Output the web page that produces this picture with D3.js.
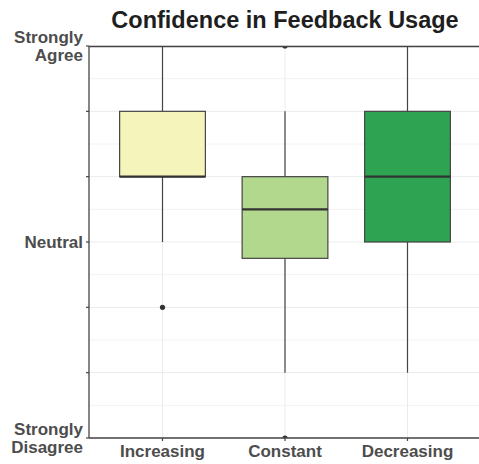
<!DOCTYPE html>
<html lang="en">
<head>
<meta charset="UTF-8">
<title>Confidence in Feedback Usage</title>
<style>
  body { margin: 0; background: #fff; }
  svg { display: block; }
  text { font-family: "Liberation Sans", Arial, sans-serif; }
</style>
<script src="https://d3js.org/d3.v7.min.js"></script>
</head>
<body>
<svg id="chart" width="479" height="464"></svg>
<script>
  const categories = ["Increasing", "Constant", "Decreasing"];
  const colors = ["#f5f5bb", "#b1d88c", "#2ea352"];
  // box stats on a 1..7 scale
  const q1 = [5, 3.75, 4];
  const medians = [5, 4.5, 5];
  const q3 = [6, 5, 6];
  const whiskLo = [4, 2, 2];
  const whiskHi = [7, 6, 7];
  const outliers = [[3], [7, 1], []];
  const yTickValues = [1, 4, 7];
  const yTickLabels = [["Strongly", "Disagree"], ["Neutral"], ["Strongly", "Agree"]];

  const svg = d3.select("#chart");
  const margin = { top: 46, right: -2, bottom: 26, left: 89 };
  const width = 479 - margin.left - margin.right;
  const height = 464 - margin.top - margin.bottom;

  const x = d3.scalePoint().domain(categories).range([0, width]).padding(0.6);
  const step = x.step();
  const y = d3.scaleLinear().domain([1, 7]).range([height, 0]);

  svg.append("defs").append("clipPath").attr("id", "clip")
    .append("rect").attr("width", width).attr("height", height);

  const g = svg.append("g").attr("transform", `translate(${margin.left},${margin.top})`);

  svg.append("text")
    .attr("x", margin.left + width / 2).attr("y", 28)
    .attr("text-anchor", "middle")
    .attr("font-size", 23.5).attr("font-weight", "bold").attr("fill", "#1e1e1e")
    .text("Confidence in Feedback Usage");

  // grid
  const grid = g.append("g");
  grid.selectAll(".minor").data(d3.range(1.5, 7, 1)).join("line")
    .attr("x1", 0).attr("x2", width)
    .attr("y1", d => y(d)).attr("y2", d => y(d))
    .attr("stroke", "#f2f2f2").attr("stroke-width", 1);
  grid.selectAll(".major").data(d3.range(1, 8)).join("line")
    .attr("x1", 0).attr("x2", width)
    .attr("y1", d => y(d)).attr("y2", d => y(d))
    .attr("stroke", "#ebebeb").attr("stroke-width", 1);
  grid.selectAll(".vert").data(categories).join("line")
    .attr("x1", d => x(d)).attr("x2", d => x(d))
    .attr("y1", 0).attr("y2", height)
    .attr("stroke", "#ebebeb").attr("stroke-width", 1);

  const boxW = step * 0.7;
  const plot = g.append("g").attr("clip-path", "url(#clip)");
  const boxes = plot.selectAll(".box").data(categories).join("g");
  boxes.append("line")
    .attr("x1", d => x(d)).attr("x2", d => x(d))
    .attr("y1", (d, i) => y(whiskHi[i])).attr("y2", (d, i) => y(q3[i]))
    .attr("stroke", "#444").attr("stroke-width", 1.2);
  boxes.append("line")
    .attr("x1", d => x(d)).attr("x2", d => x(d))
    .attr("y1", (d, i) => y(q1[i])).attr("y2", (d, i) => y(whiskLo[i]))
    .attr("stroke", "#444").attr("stroke-width", 1.2);
  boxes.append("rect")
    .attr("x", d => x(d) - boxW / 2).attr("width", boxW)
    .attr("y", (d, i) => y(q3[i])).attr("height", (d, i) => y(q1[i]) - y(q3[i]))
    .attr("fill", (d, i) => colors[i]).attr("stroke", "#444").attr("stroke-width", 1.2);
  boxes.append("line")
    .attr("x1", d => x(d) - boxW / 2).attr("x2", d => x(d) + boxW / 2)
    .attr("y1", (d, i) => y(medians[i])).attr("y2", (d, i) => y(medians[i]))
    .attr("stroke", "#333").attr("stroke-width", 2.4);
  boxes.each(function(d, i) {
    d3.select(this).selectAll("circle").data(outliers[i]).join("circle")
      .attr("cx", x(d)).attr("cy", v => y(v)).attr("r", 2.6).attr("fill", "#333");
  });

  // axes lines
  g.append("line").attr("x1", 0).attr("x2", width).attr("y1", 0.5).attr("y2", 0.5)
    .attr("stroke", "#444").attr("stroke-width", 1.3);
  g.append("line").attr("x1", 0).attr("x2", 0).attr("y1", 0).attr("y2", height)
    .attr("stroke", "#444").attr("stroke-width", 1.3);
  g.append("line").attr("x1", 0).attr("x2", width).attr("y1", height).attr("y2", height)
    .attr("stroke", "#444").attr("stroke-width", 1.3);

  // y ticks
  g.selectAll(".ytick").data(d3.range(1, 8)).join("line")
    .attr("x1", -3).attr("x2", 0)
    .attr("y1", d => y(d)).attr("y2", d => y(d))
    .attr("stroke", "#444").attr("stroke-width", 1.2);
  // x ticks
  g.selectAll(".xtick").data(categories).join("line")
    .attr("x1", d => x(d)).attr("x2", d => x(d))
    .attr("y1", height).attr("y2", height + 3)
    .attr("stroke", "#444").attr("stroke-width", 1.2);

  const ylab = g.selectAll(".ylab").data(yTickValues).join("text")
    .attr("text-anchor", "end").attr("font-size", 17).attr("font-weight", "bold").attr("fill", "#4d4d4d")
    .attr("transform", d => `translate(-6,${y(d)})`);
  ylab.each(function(d, i) {
    const lines = yTickLabels[i];
    const t = d3.select(this);
    lines.forEach((s, k) => {
      t.append("tspan").attr("x", 0)
        .attr("y", (k - (lines.length - 1) / 2) * 18 + 6)
        .text(s);
    });
  });

  g.selectAll(".xlab").data(categories).join("text")
    .attr("x", d => x(d)).attr("y", height + 19)
    .attr("text-anchor", "middle").attr("font-size", 17).attr("font-weight", "bold").attr("fill", "#4d4d4d")
    .text(d => d);
</script>
</body>
</html>
